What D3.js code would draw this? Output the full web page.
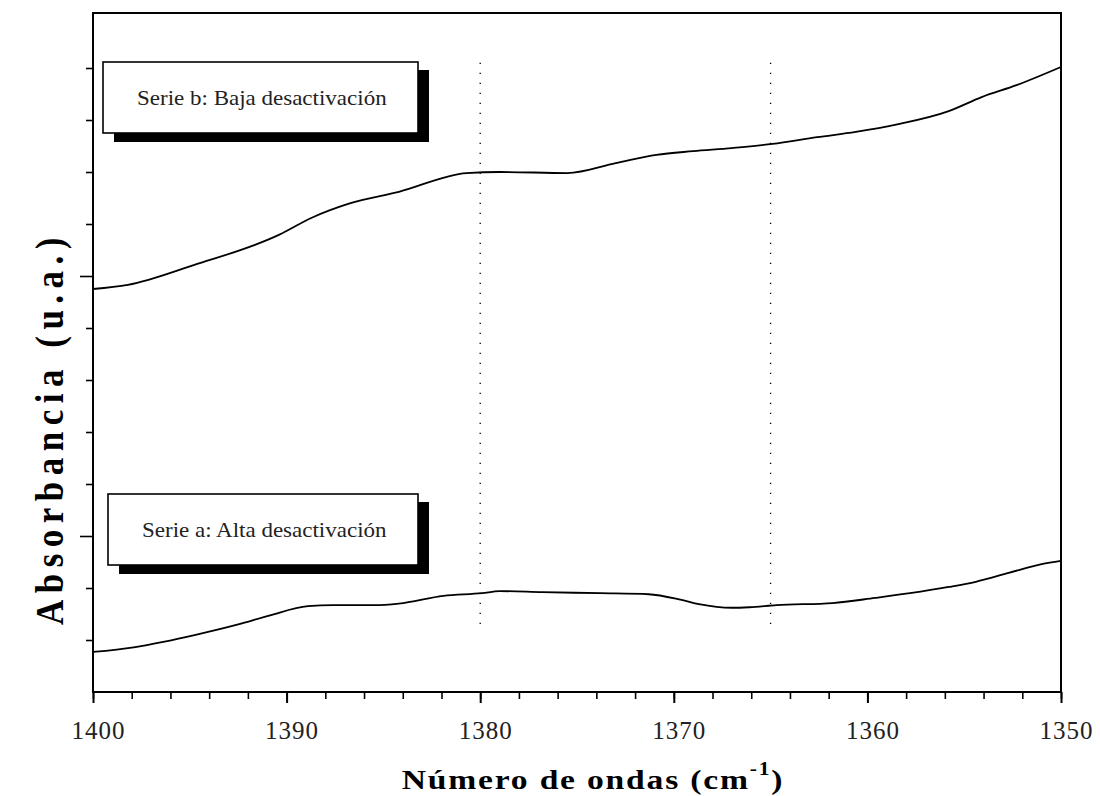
<!DOCTYPE html>
<html>
<head>
<meta charset="utf-8">
<script src="https://cdn.jsdelivr.net/npm/d3@7"></script>
<style>
  body { margin: 0; background: #fff; }
  svg { display: block; }
</style>
</head>
<body>
<svg id="chart" width="1100" height="796"></svg>
<script>
// Serie b (baja desactivación): wavenumber (cm-1) and absorbance (a.u.)
const wavenumbersB = [1400, 1398.2, 1394.8, 1390.4, 1388.7, 1386.7, 1384.2, 1380.7, 1379.0, 1375.5,
                      1373.0, 1370.9, 1369.0, 1367.0, 1364.9, 1362.6, 1360.6, 1358.4, 1355.8, 1354.1,
                      1352.3, 1350];
const absorbanceB  = [7.75, 7.83, 8.21, 8.79, 9.12, 9.40, 9.62, 9.98, 10.0, 9.98,
                      10.17, 10.33, 10.40, 10.46, 10.54, 10.67, 10.77, 10.92, 11.17, 11.44,
                      11.67, 12.02];

// Serie a (alta desactivación)
const wavenumbersA = [1400, 1397.9, 1396.3, 1394.7, 1392.5, 1390.9, 1388.9, 1387.6, 1385.5, 1384.2,
                      1381.9, 1379.9, 1379.0, 1376.8, 1373.8, 1371.3, 1369.6, 1368.7, 1367.0, 1366.1,
                      1364.7, 1361.8, 1359.6, 1357.8, 1355.8, 1354.4, 1352.7, 1351.0, 1350];
const absorbanceA  = [0.77, 0.86, 0.97, 1.10, 1.30, 1.47, 1.65, 1.67, 1.67, 1.70,
                      1.85, 1.90, 1.94, 1.92, 1.90, 1.88, 1.77, 1.69, 1.62, 1.63,
                      1.67, 1.71, 1.81, 1.90, 2.02, 2.12, 2.29, 2.46, 2.52];

// Reference band positions (dotted verticals) and their vertical extent
const markerWavenumbers = [1380, 1365];
const markerExtent = [1.15, 12.1];

// Axis ticks
const xMajorTicks = [1400, 1390, 1380, 1370, 1360, 1350];
const xMinorTicks = d3.range(1400, 1349, -2);
const yMinorTicks = d3.range(1, 13);
const yMajorTicks = [3, 8];

const legendLabels = ["Serie b: Baja desactivación", "Serie a: Alta desactivación"];
const xTitleText = "Número de ondas (cm";
const xTitleSup = "-1";
const yTitleText = "Absorbancia (u.a.)";

const svg = d3.select("#chart");
const serif = "'Liberation Serif', 'Times New Roman', serif";

const x = d3.scaleLinear().domain([1400, 1350]).range([93, 1061]);
const y = d3.scaleLinear().domain([0, 13]).range([692, 16]);

// Plot frame
const frameTop = y(13) - 3;
svg.append("rect")
  .attr("x", x(1400)).attr("y", frameTop)
  .attr("width", x(1350) - x(1400)).attr("height", y(0) - frameTop)
  .attr("fill", "none").attr("stroke", "#000").attr("stroke-width", 2);

// Bottom axis: minor and major ticks pointing outward
const xAxisG = svg.append("g").attr("transform", `translate(0,${y(0)})`);
xAxisG.append("g")
  .call(d3.axisBottom(x).tickValues(xMinorTicks).tickSize(7).tickFormat(""))
  .call(g => g.select(".domain").remove())
  .selectAll("line").attr("stroke", "#000").attr("stroke-width", 1.6);
const xMajorG = xAxisG.append("g")
  .call(d3.axisBottom(x).tickValues(xMajorTicks).tickSize(11).tickFormat(d3.format("d")))
  .call(g => g.select(".domain").remove());
xMajorG.selectAll("line").attr("stroke", "#000").attr("stroke-width", 2);
xMajorG.selectAll("text")
  .attr("y", 47).attr("dy", null).attr("dx", 5)
  .attr("fill", "#222")
  .style("font-family", serif).style("font-size", "25px").style("letter-spacing", "1px");

// Left axis: unlabeled ticks
const yAxisG = svg.append("g").attr("transform", `translate(${x(1400)},0)`);
yAxisG.append("g")
  .call(d3.axisLeft(y).tickValues(yMinorTicks.filter(v => !yMajorTicks.includes(v))).tickSize(7).tickFormat(""))
  .call(g => g.select(".domain").remove())
  .selectAll("line").attr("stroke", "#000").attr("stroke-width", 1.6);
yAxisG.append("g")
  .call(d3.axisLeft(y).tickValues(yMajorTicks).tickSize(13).tickFormat(""))
  .call(g => g.select(".domain").remove())
  .selectAll("line").attr("stroke", "#000").attr("stroke-width", 1.6);

// Dotted reference lines
svg.append("g").selectAll("line").data(markerWavenumbers).join("line")
  .attr("x1", d => x(d)).attr("x2", d => x(d))
  .attr("y1", y(markerExtent[1])).attr("y2", y(markerExtent[0]))
  .attr("stroke", "#000").attr("stroke-width", 1.3)
  .attr("stroke-dasharray", "1.3 8.7");

// Spectra
const line = d3.line().x(d => x(d[0])).y(d => y(d[1])).curve(d3.curveMonotoneX);
const seriesB = wavenumbersB.map((w, i) => [w, absorbanceB[i]]);
const seriesA = wavenumbersA.map((w, i) => [w, absorbanceA[i]]);
[seriesB, seriesA].forEach(s => {
  svg.append("path").datum(s)
    .attr("d", line)
    .attr("fill", "none").attr("stroke", "#000").attr("stroke-width", 1.8)
    .attr("stroke-linejoin", "round");
});

// Legend boxes with drop shadow
const legendBoxes = [
  { label: legendLabels[0], x: 103, y: 62, w: 315, h: 71, tx: 137 },
  { label: legendLabels[1], x: 108, y: 494, w: 310, h: 71, tx: 142 }
];
legendBoxes.forEach(b => {
  const g = svg.append("g");
  g.append("rect").attr("x", b.x + 11).attr("y", b.y + 8).attr("width", b.w).attr("height", b.h + 1)
    .attr("fill", "#000");
  g.append("rect").attr("x", b.x).attr("y", b.y).attr("width", b.w).attr("height", b.h)
    .attr("fill", "#fff").attr("stroke", "#000").attr("stroke-width", 1.6);
  g.append("text")
    .attr("transform", `translate(${b.tx},${b.y + 43}) scale(1.15,1)`)
    .attr("fill", "#222")
    .style("font-family", serif).style("font-size", "20px")
    .text(b.label);
});

// Axis titles
const xTitle = svg.append("text")
  .attr("transform", `translate(593,789) scale(1.2,1)`)
  .attr("text-anchor", "middle")
  .attr("fill", "#000")
  .style("font-family", serif).style("font-size", "28px").style("font-weight", "bold")
  .style("letter-spacing", "1.5px");
xTitle.append("tspan").text(xTitleText);
xTitle.append("tspan").attr("dy", -14).style("font-size", "18px").text(xTitleSup);
xTitle.append("tspan").attr("dy", 14).text(")");

svg.append("text")
  .attr("transform", `translate(63,428) rotate(-90) scale(1,1.15)`)
  .attr("text-anchor", "middle")
  .attr("fill", "#000")
  .style("font-family", serif).style("font-size", "35px").style("font-weight", "bold")
  .style("letter-spacing", "6.5px")
  .text(yTitleText);
</script>
</body>
</html>
